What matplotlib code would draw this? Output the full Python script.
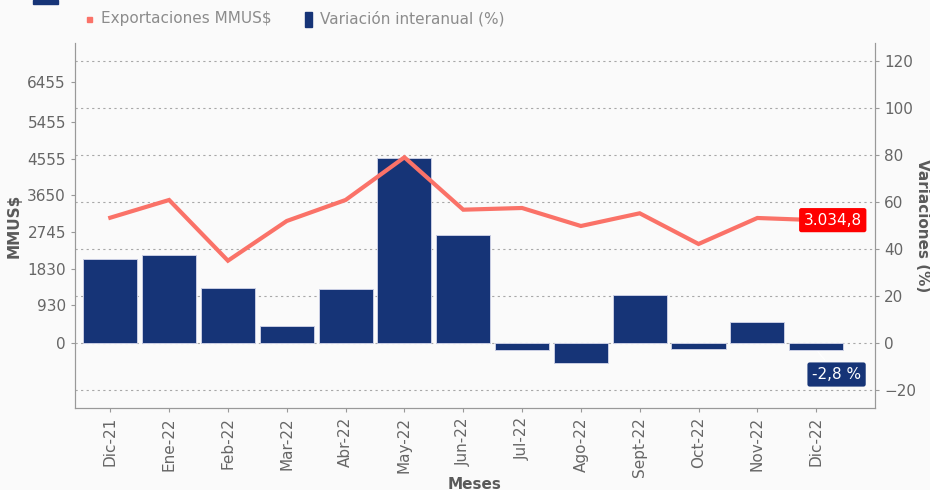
import matplotlib.pyplot as plt
from matplotlib.patches import Rectangle

# data
meses = ["Dic-21", "Ene-22", "Feb-22", "Mar-22", "Abr-22", "May-22", "Jun-22",
         "Jul-22", "Ago-22", "Sept-22", "Oct-22", "Nov-22", "Dic-22"]
exportaciones = [3095, 3533, 2033, 3014, 3533, 4587, 3293, 3335, 2890, 3204, 2446, 3088, 3034.8]
variacion = [35.6, 37.3, 23.3, 7.1, 23.0, 78.9, 45.8, -3.0, -8.6, 20.3, -2.7, 9.1, -2.8]
left_ticks = [0, 930, 1830, 2745, 3650, 4555, 5455, 6455]
right_ticks = [-20, 0, 20, 40, 60, 80, 100, 120]

LINE_COLOR = "#FA7268"
BAR_COLOR = "#163477"
TEXT_GRAY = "#666666"
LABEL_GRAY = "#5a5a5a"
BG = "#FAFAFA"

fig = plt.figure(figsize=(9.3, 4.9), dpi=100, facecolor=BG)
ax = fig.add_axes([75 / 930, 1 - 408 / 490, 800 / 930, 365 / 490])
ax2 = ax.twinx()
ax2.set_facecolor(BG)
ax.set_zorder(ax2.get_zorder() + 1)
ax.patch.set_visible(False)

x = list(range(len(meses)))

# bars on the right axis (variation %)
ax2.bar(x, variacion, width=0.92, color=BAR_COLOR, edgecolor="#c9cde3", linewidth=0.7, zorder=2)
ax2.set_ylim(-27.7, 127.7)
ax2.set_yticks(right_ticks)
ax2.yaxis.grid(True, linestyle=(0, (2, 3)), color="#a8a8a8", linewidth=0.8, zorder=0)
ax2.set_axisbelow(True)

# line on the left axis (MMUS$)
ax.plot(x, exportaciones, color=LINE_COLOR, linewidth=3, solid_joinstyle="miter", zorder=3)
ax.set_ylim(-1606, 7411)
ax.set_yticks(left_ticks)
ax.set_xlim(-0.6, 13.0)
ax.set_xticks(x)
ax.set_xticklabels(meses, rotation=90)

for a in (ax, ax2):
    a.spines["top"].set_visible(False)
    for s in ("left", "right", "bottom"):
        a.spines[s].set_color("#999999")
    a.tick_params(colors="#999999", labelcolor=TEXT_GRAY, labelsize=11, length=3)

ax.set_ylabel("MMUS$", fontsize=11, fontweight="bold", color=LABEL_GRAY, labelpad=4)
ax.set_xlabel("Meses", fontsize=11, fontweight="bold", color=LABEL_GRAY, labelpad=0)
ax2.set_ylabel("Variaciones (%)", fontsize=11, fontweight="bold", color=LABEL_GRAY,
               rotation=270, labelpad=10)

# value labels for the last month
ax.annotate("3.034,8", xy=(12, exportaciones[-1]), xytext=(-9, 0), textcoords="offset points",
            ha="left", va="center", color="white", fontsize=11, zorder=5,
            bbox=dict(boxstyle="round,pad=0.3,rounding_size=0.15", fc="#FF0000", ec="none"))
ax2.annotate("-2,8 %", xy=(12, variacion[-1]), xytext=(-3, -18), textcoords="offset points",
             ha="left", va="center", color="white", fontsize=11, zorder=5,
             arrowprops=dict(arrowstyle="-", color="white", lw=0.8),
             bbox=dict(boxstyle="round,pad=0.3,rounding_size=0.15", fc=BAR_COLOR, ec="none"))

# legend drawn by hand at the top
fig.patches.append(Rectangle((87 / 930, 1 - 22 / 490), 5 / 930, 5 / 490,
                             transform=fig.transFigure, color=LINE_COLOR))
fig.text(101 / 930, 1 - 19 / 490, "Exportaciones MMUS$", fontsize=11, color="#8c8c8c",
         ha="left", va="center")
fig.patches.append(Rectangle((305 / 930, 1 - 27 / 490), 7 / 930, 15 / 490,
                             transform=fig.transFigure, color=BAR_COLOR))
fig.text(320 / 930, 1 - 19 / 490, "Variación interanual (%)", fontsize=11, color="#8c8c8c",
         ha="left", va="center")
# cut-off title marker
fig.patches.append(Rectangle((33 / 930, 1 - 4 / 490), 25 / 930, 4 / 490,
                             transform=fig.transFigure, color=BAR_COLOR))

fig.savefig("out.png", dpi=100, facecolor=BG)
